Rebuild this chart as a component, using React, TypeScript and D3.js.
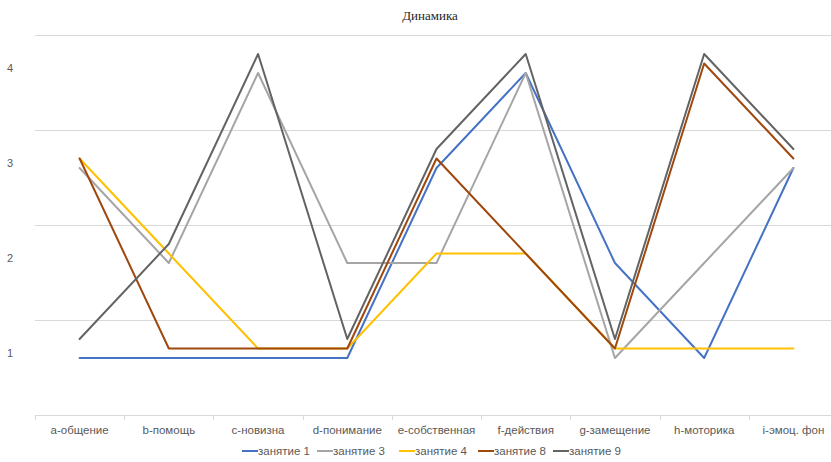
import { useEffect } from "react";
import * as d3 from "d3";

const categories = [
  "a-общение",
  "b-помощь",
  "c-новизна",
  "d-понимание",
  "e-собственная",
  "f-действия",
  "g-замещение",
  "h-моторика",
  "i-эмоц. фон",
];

const seriesNames = ["занятие 1", "занятие 3", "занятие 4", "занятие 8", "занятие 9"];
const seriesColors = ["#4472C4", "#A5A5A5", "#FFC000", "#9E480E", "#636363"];

// values (series are shifted slightly so lines don't overlap)
const lesson1 = [0.9, 0.9, 0.9, 0.9, 2.9, 3.9, 1.9, 0.9, 2.9];
const lesson3 = [2.9, 1.9, 3.9, 1.9, 1.9, 3.9, 0.9, 1.9, 2.9];
const lesson4 = [3, 2, 1, 1, 2, 2, 1, 1, 1];
const lesson8 = [3, 1, 1, 1, 3, 2, 1, 4, 3];
const lesson9 = [1.1, 2.1, 4.1, 1.1, 3.1, 4.1, 1.1, 4.1, 3.1];

const seriesValues = [lesson1, lesson3, lesson4, lesson8, lesson9];

const yTickLabels = [1, 2, 3, 4];
const gridValues = [1.3, 2.3, 3.3, 4.3];

const W = 831;
const H = 462;
const margin = { top: 35, right: -7, bottom: 47, left: 35 };

export default function App() {
  useEffect(() => {
    document.body.style.margin = "0";
  }, []);

  const x = d3
    .scaleBand<string>()
    .domain(categories)
    .range([margin.left, W - margin.right]);

  const y = d3
    .scaleLinear()
    .domain([0.3, 4.3])
    .range([H - margin.bottom, margin.top]);

  const line = d3
    .line<number>()
    .x((_, i) => (x(categories[i]) ?? 0) + x.bandwidth() / 2)
    .y((d) => y(d));

  const axisY = y(0.3);
  const boundaries = categories.map((c) => x(c) ?? 0);
  boundaries.push(x.range()[1]);

  // legend layout
  const legendStarts = [242, 317, 399, 478, 553];

  return (
    <svg width={W} height={H} style={{ display: "block", background: "#fff" }}>
      <text
        x={430}
        y={20}
        textAnchor="middle"
        fontFamily="'Liberation Serif', serif"
        fontSize={13}
        fill="#262626"
      >
        Динамика
      </text>

      {/* gridlines */}
      {gridValues.map((g) => (
        <line
          key={g}
          x1={margin.left}
          x2={W}
          y1={Math.round(y(g)) + 0.5}
          y2={Math.round(y(g)) + 0.5}
          stroke="#D9D9D9"
          strokeWidth={1}
        />
      ))}

      {/* x axis */}
      <line
        x1={margin.left}
        x2={W}
        y1={Math.round(axisY) + 0.5}
        y2={Math.round(axisY) + 0.5}
        stroke="#D9D9D9"
      />
      {boundaries.map((b, i) => (
        <line
          key={i}
          x1={Math.round(b) + 0.5}
          x2={Math.round(b) + 0.5}
          y1={axisY}
          y2={axisY + 5}
          stroke="#D9D9D9"
        />
      ))}

      {/* y labels */}
      {yTickLabels.map((t) => (
        <text
          key={t}
          x={10}
          y={y(t) + 8}
          textAnchor="middle"
          fontFamily="'Liberation Sans', Arial, sans-serif"
          fontSize={11}
          fill="#595959"
        >
          {t}
        </text>
      ))}

      {/* category labels */}
      {categories.map((c) => (
        <text
          key={c}
          x={(x(c) ?? 0) + x.bandwidth() / 2}
          y={434}
          textAnchor="middle"
          fontFamily="'Liberation Sans', Arial, sans-serif"
          fontSize={11.5}
          fill="#595959"
        >
          {c}
        </text>
      ))}

      {/* series lines */}
      {seriesValues.map((vals, i) => (
        <path
          key={seriesNames[i]}
          d={line(vals) ?? ""}
          fill="none"
          stroke={seriesColors[i]}
          strokeWidth={2}
          strokeLinejoin="round"
          strokeLinecap="round"
        />
      ))}

      {/* legend */}
      {seriesNames.map((name, i) => (
        <g key={name} transform={`translate(${legendStarts[i]},451)`}>
          <line x1={0} x2={16} y1={0} y2={0} stroke={seriesColors[i]} strokeWidth={2} />
          <text
            x={16}
            y={4}
            fontFamily="'Liberation Sans', Arial, sans-serif"
            fontSize={11.5}
            fill="#595959"
          >
            {name}
          </text>
        </g>
      ))}
    </svg>
  );
}
